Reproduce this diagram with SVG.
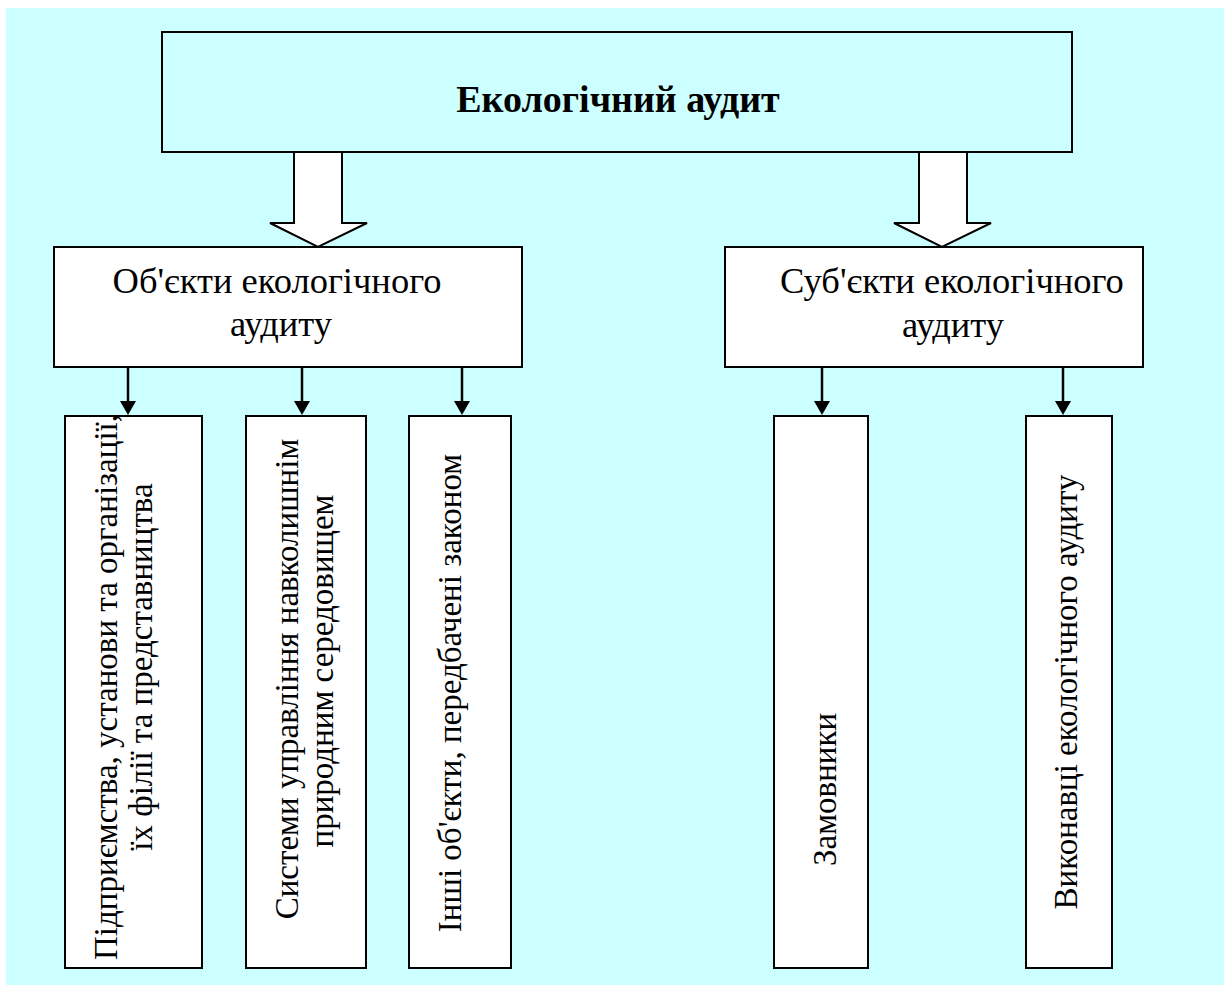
<svg xmlns="http://www.w3.org/2000/svg" width="1224" height="987" viewBox="0 0 1224 987">
<style>
.box{fill:#FFFFFF;stroke:#000;stroke-width:2}
.top{fill:#CCFFFF;stroke:#000;stroke-width:2}
.t{font-family:"Liberation Serif","Times New Roman",serif;fill:#000}
.title{font-size:38px;font-weight:bold}
.mid{font-size:36.5px}
.rot{font-size:33px}
.blk{fill:#FFFFFF;stroke:#000;stroke-width:2;stroke-linejoin:miter}
.ln{stroke:#000;stroke-width:2.5;fill:none}
</style>
<rect x="6" y="8" width="1218" height="977" fill="#CCFFFF"/>
<g id="node-top">
<rect class="top" x="162" y="32" width="910" height="120"/>
<text class="t title" x="618" y="112" text-anchor="middle">Екологічний аудит</text>
</g>
<g id="connectors">
<polygon class="blk" points="294,152 342,152 342,223 367,223 318,247 270,223 294,223"/>
<polygon class="blk" points="919,152 967,152 967,223 991,223 942,247 894,223 919,223"/>
<g fill="#000">
<line class="ln" x1="128" y1="367" x2="128" y2="402"/>
<path d="M120,401 L136,401 L128,415 Z"/>
<line class="ln" x1="302" y1="367" x2="302" y2="402"/>
<path d="M294,401 L310,401 L302,415 Z"/>
<line class="ln" x1="462" y1="367" x2="462" y2="402"/>
<path d="M454,401 L470,401 L462,415 Z"/>
<line class="ln" x1="822" y1="367" x2="822" y2="402"/>
<path d="M814,401 L830,401 L822,415 Z"/>
<line class="ln" x1="1063" y1="367" x2="1063" y2="402"/>
<path d="M1055,401 L1071,401 L1063,415 Z"/>
</g>
</g>
<g id="node-objects">
<rect class="box" x="54" y="247" width="468" height="120"/>
<text class="t mid" x="277" y="293" text-anchor="middle">Об'єкти екологічного</text>
<text class="t mid" x="281" y="336" text-anchor="middle">аудиту</text>
</g>
<g id="node-subjects">
<rect class="box" x="725" y="247" width="418" height="120"/>
<text class="t mid" x="952" y="293" text-anchor="middle">Суб'єкти екологічного</text>
<text class="t mid" x="953" y="337" text-anchor="middle">аудиту</text>
</g>
<g id="node-enterprises">
<rect class="box" x="65" y="416" width="137" height="552"/>
<text class="t rot" transform="rotate(-90)" x="-687" y="117" text-anchor="middle">Підприємства, установи та організації,</text>
<text class="t rot" transform="rotate(-90)" x="-667" y="152" text-anchor="middle">їх філії та представництва</text>
</g>
<g id="node-systems">
<rect class="box" x="246" y="416" width="120" height="552"/>
<text class="t rot" transform="rotate(-90)" x="-679" y="298" text-anchor="middle">Системи управління навколишнім</text>
<text class="t rot" transform="rotate(-90)" x="-671" y="333" text-anchor="middle">природним середовищем</text>
</g>
<g id="node-other">
<rect class="box" x="409" y="416" width="102" height="552"/>
<text class="t rot" transform="rotate(-90)" x="-693" y="461" text-anchor="middle">Інші об'єкти, передбачені законом</text>
</g>
<g id="node-customers">
<rect class="box" x="774" y="416" width="94" height="552"/>
<text class="t rot" transform="rotate(-90)" x="-866" y="836" text-anchor="start">Замовники</text>
</g>
<g id="node-performers">
<rect class="box" x="1026" y="416" width="86" height="552"/>
<text class="t rot" transform="rotate(-90)" x="-692" y="1077" text-anchor="middle">Виконавці екологічного аудиту</text>
</g>
</svg>
